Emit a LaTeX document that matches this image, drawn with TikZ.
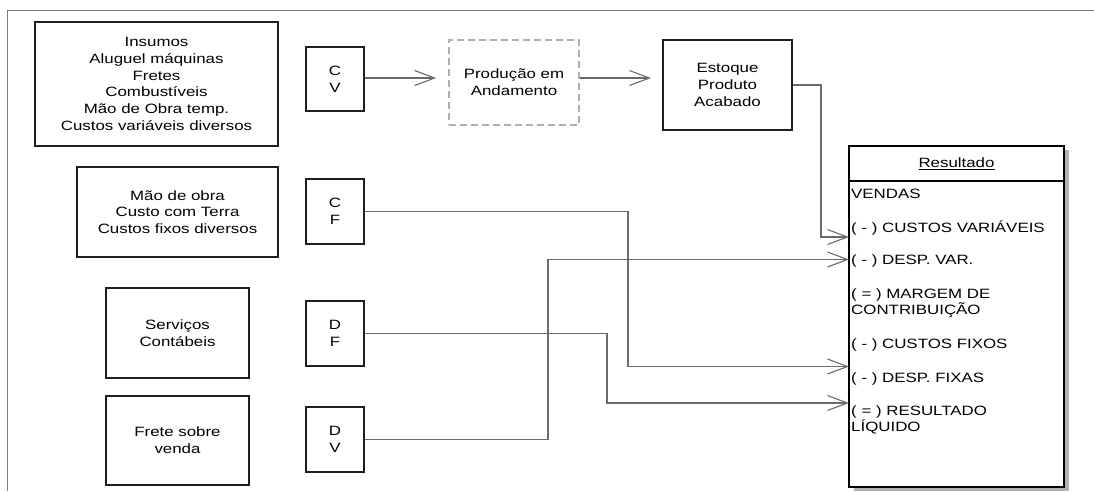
\documentclass[tikz,border=0pt]{standalone}
\usepackage{fontspec}
\setmainfont{Liberation Sans}[FakeStretch=1.25]
\usetikzlibrary{arrows.meta,shadows}
\definecolor{boxc}{HTML}{1E1E1E}
\definecolor{linec}{HTML}{6A6A6A}
\definecolor{dashc}{HTML}{B0B0B0}
\definecolor{framec}{HTML}{7A7A7A}
\tikzset{
  txt/.style={font=\fontsize{13.5}{16.7}\selectfont},
  bigbox/.style={draw=boxc, line width=2pt, align=center, inner sep=0pt, txt},
  smallbox/.style={draw=boxc, line width=1.6pt, align=center, inner sep=0pt, txt, minimum width=58pt, minimum height=65pt},
  dashbox/.style={draw=dashc, line width=1.6pt, dash pattern=on 7pt off 4pt, align=center, inner sep=0pt, txt},
  conn/.style={draw=linec, line width=1.3pt, -{Straight Barb[length=20pt,width=15pt,line width=1.1pt]}},
  rtxt/.style={txt, anchor=base west, inner sep=0pt},
}
\begin{document}
\begin{tikzpicture}[x=1pt,y=-1pt]
\useasboundingbox (0,0) rectangle (1094,491);
% frame
\draw[framec, line width=1pt] (1094,10) -- (7,10) -- (7,491);

% left boxes
\node[bigbox, minimum width=243pt, minimum height=124pt] (ins) at (156.5,84) {Insumos\\Aluguel máquinas\\Fretes\\Combustíveis\\Mão de Obra temp.\\Custos variáveis diversos};
\node[bigbox, line width=1.8pt, minimum width=201pt, minimum height=90pt] (mao) at (177.5,212) {Mão de obra\\Custo com Terra\\Custos fixos diversos};
\node[bigbox, line width=1.8pt, minimum width=143pt, minimum height=90pt] (serv) at (177.5,333) {Serviços\\Contábeis};
\node[bigbox, line width=1.8pt, minimum width=143pt, minimum height=89pt] (frete) at (177.5,440.5) {Frete sobre\\venda};

% small boxes
\node[smallbox, minimum height=64pt] (cv) at (335,79) {C\\V};
\node[smallbox] (cf) at (335,211.5) {C\\F};
\node[smallbox] (df) at (335,333.5) {D\\F};
\node[smallbox] (dv) at (335,439.5) {D\\V};

% production / stock
\node[dashbox, minimum width=130pt, minimum height=85pt] (prod) at (514,82.5) {Produção em\\Andamento};
\node[bigbox, minimum width=129pt, minimum height=90pt] (esto) at (727.5,85) {Estoque\\Produto\\Acabado};

% result box
\node[draw=black, line width=2pt, fill=white, minimum width=215pt, minimum height=341pt, inner sep=0pt,
      drop shadow={shadow xshift=5pt, shadow yshift=-4pt, fill=black!30, opacity=1}] (res) at (956.5,316.5) {};
\draw[black, line width=2pt] ([yshift=-36pt]res.north west) -- ([yshift=-36pt]res.north east);
\node[txt, inner sep=0pt] (rtitle) at (956.5,164) {\underline{Resultado}};
\node[rtxt] (r1) at (851,198) {VENDAS};
\node[rtxt] (r2) at (851,232) {( - ) CUSTOS VARIÁVEIS};
\node[rtxt] (r3) at (851,264.5) {( - ) DESP. VAR.};
\node[rtxt] (r4) at (851,298) {( = ) MARGEM DE};
\node[rtxt] (r5) at (851,314.5) {CONTRIBUIÇÃO};
\node[rtxt] (r6) at (851,348) {( - ) CUSTOS FIXOS};
\node[rtxt] (r7) at (851,382) {( - ) DESP. FIXAS};
\node[rtxt] (r8) at (851,415) {( = ) RESULTADO};
\node[rtxt] (r9) at (851,431.5) {LÍQUIDO};

% routing coordinates
\coordinate (inE) at (849,237);
\coordinate (inDV) at (849,259.5);
\coordinate (inCF) at (849,366.5);
\coordinate (inDF) at (849,403);
\coordinate (xE) at (821,0);
\coordinate (xCF) at (628,0);
\coordinate (xDF) at (607,0);
\coordinate (xDV) at (548,0);

% connectors
\draw[conn, shorten >=12pt] (cv.east |- 0,78) -- (prod.west |- 0,78);
\draw[conn, shorten >=11pt] (prod.east |- 0,78) -- (esto.west |- 0,78);
\draw[conn] (esto.east) -- (esto.east -| xE) |- (inE);
\draw[conn] (cf.east) -- (cf.east -| xCF) |- (inCF);
\draw[conn] (df.east) -- (df.east -| xDF) |- (inDF);
\draw[conn] (dv.east) -- (dv.east -| xDV) |- (inDV);
\end{tikzpicture}
\end{document}
